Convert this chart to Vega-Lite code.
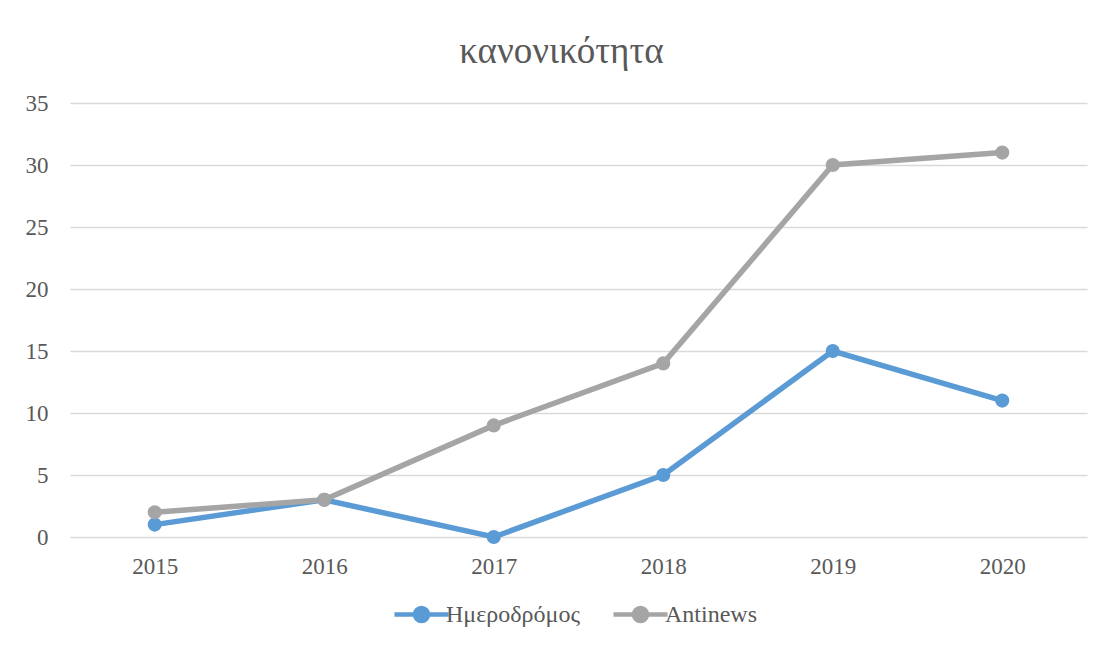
{
  "$schema": "https://vega.github.io/schema/vega-lite/v6.json",
  "autosize": "none",
  "width": 1017,
  "height": 434,
  "padding": {"left": 70, "top": 103, "right": 18, "bottom": 112},
  "background": "white",
  "title": {
    "text": "κανονικότητα",
    "font": "Liberation Serif",
    "fontSize": 37,
    "fontWeight": "normal",
    "color": "#595959",
    "anchor": "middle",
    "dx": -17,
    "offset": 21
  },
  "data": {
    "values": [
      {"year": "2015", "series": "Ημεροδρόμος", "value": 1},
      {"year": "2016", "series": "Ημεροδρόμος", "value": 3},
      {"year": "2017", "series": "Ημεροδρόμος", "value": 0},
      {"year": "2018", "series": "Ημεροδρόμος", "value": 5},
      {"year": "2019", "series": "Ημεροδρόμος", "value": 15},
      {"year": "2020", "series": "Ημεροδρόμος", "value": 11},
      {"year": "2015", "series": "Antinews", "value": 2},
      {"year": "2016", "series": "Antinews", "value": 3},
      {"year": "2017", "series": "Antinews", "value": 9},
      {"year": "2018", "series": "Antinews", "value": 14},
      {"year": "2019", "series": "Antinews", "value": 30},
      {"year": "2020", "series": "Antinews", "value": 31}
    ]
  },
  "encoding": {
    "x": {
      "field": "year", "type": "ordinal",
      "scale": {"type": "point", "padding": 0.5},
      "axis": {
        "title": null, "labelAngle": 0, "domain": false, "ticks": false, "grid": false,
        "labelFont": "Liberation Serif", "labelFontSize": 23, "labelColor": "#595959",
        "labelPadding": 18
      }
    },
    "y": {
      "field": "value", "type": "quantitative",
      "scale": {"domain": [0, 35]},
      "axis": {
        "title": null, "values": [0, 5, 10, 15, 20, 25, 30, 35], "domain": false, "ticks": false,
        "gridColor": "#d9d9d9", "gridWidth": 1.5,
        "labelFont": "Liberation Serif", "labelFontSize": 23, "labelColor": "#595959",
        "labelPadding": 22
      }
    },
    "color": {
      "field": "series", "type": "nominal",
      "scale": {"domain": ["Ημεροδρόμος", "Antinews"], "range": ["#5b9bd5", "#a5a5a5"]},
      "legend": {
        "title": null, "orient": "bottom", "direction": "horizontal",
        "labelFont": "Liberation Serif", "labelFontSize": 24, "labelColor": "#595959",
        "symbolType": "M -1.5 0 L 1.5 0 M 0.36 0 A 0.36 0.36 0 1 1 -0.36 0 A 0.36 0.36 0 1 1 0.36 0 Z",
        "symbolSize": 1300, "symbolStrokeWidth": 4.5, "symbolOpacity": 1,
        "labelOffset": 4, "columnPadding": 24, "offset": 16
      }
    }
  },
  "layer": [
    {"mark": {"type": "line", "strokeWidth": 5.5}},
    {"mark": {"type": "point", "filled": true, "size": 200, "opacity": 1}}
  ],
  "config": {
    "view": {"stroke": null},
    "legend": {"layout": {"bottom": {"anchor": "middle"}}}
  }
}
